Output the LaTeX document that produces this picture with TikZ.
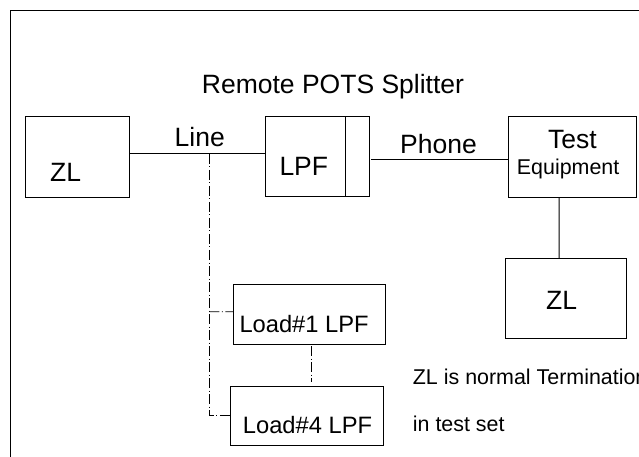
\documentclass[tikz,border=0pt]{standalone}
\usepackage{fontspec}
\setmainfont{Liberation Sans}
\begin{document}
\begin{tikzpicture}[x=1bp,y=-1bp,
  box/.style={draw=black,line width=1bp,rectangle,inner sep=0pt,outer sep=0pt},
  wire/.style={draw=black,line width=1bp},
  dd/.style={draw=black,line width=0.9bp,dash pattern=on 10bp off 2.5bp on 1bp off 2.5bp},
  big/.style={inner sep=0pt,font=\fontsize{26.6}{29}\selectfont},
  mid/.style={inner sep=0pt,font=\fontsize{23.8}{26}\selectfont},
  small/.style={inner sep=0pt,font=\fontsize{21.5}{24}\selectfont}]
\useasboundingbox (0,0) rectangle (639,457);
\clip (0,0) rectangle (639,457);
\fill[white] (0,0) rectangle (639,457);
% frame
\draw[line width=1bp,draw=black] (10,470) -- (10,10.7) -- (650,10.7);
% boxes
\node[box,minimum width=104.3bp,minimum height=80.6bp] (zl1) at (77.2,157) {};
\node[box,minimum width=104.3bp,minimum height=80bp] (lpf) at (317.2,157) {};
\node[box,minimum width=128.4bp,minimum height=80.6bp] (te) at (572.5,157) {};
\node[box,minimum width=121bp,minimum height=80bp] (zl2) at (565.5,298.3) {};
\node[box,minimum width=152.4bp,minimum height=59bp] (load1) at (309.5,314.5) {};
\node[box,minimum width=152.6bp,minimum height=59bp] (load4) at (307,415.5) {};
% LPF divider
\draw[wire] ([xshift=-23.6bp]lpf.north east) -- ([xshift=-23.6bp]lpf.south east);
% texts
\node[big,anchor=base west] (title) at (201.7,93.3) {Remote POTS Splitter};
\node[big,anchor=base west] (tzl1) at (50,182) {ZL};
\node[big,anchor=base east] (tline) at (225,147) {Line};
\node[big,anchor=base west] (tlpf) at (279.3,176) {LPF};
\node[big,anchor=base west] (tphone) at (400,153.3) {Phone};
\node[big,anchor=base west] (ttest) at (548,148.3) {Test};
\node[small,anchor=base west] (tequip) at (516.7,175) {Equipment};
\node[big,anchor=base west] (tzl2) at (546,309.3) {ZL};
\node[mid,anchor=base west] (tload1) at (239.3,332.7) {Load\#1 LPF};
\node[mid,anchor=base west] (tload4) at (242.7,433.3) {Load\#4 LPF};
\node[small,anchor=base west] (tnote1) at (412.7,384) {ZL is normal Termination};
\node[small,anchor=base west] (tnote2) at (412.7,431.7) {in test set};
% wires
\draw[wire] ([yshift=3bp]zl1.east) -- ([yshift=3bp]lpf.west);
\draw[wire,shorten <=2bp] ([yshift=-2.3bp]lpf.east) -- ([yshift=-2.3bp]te.west);
\draw[wire] ([xshift=-13.5bp]te.south) -- ([xshift=-6.5bp]zl2.north);
% dash-dot branches
\coordinate (tap) at (209.3,154);
\coordinate (tap1) at (209.3,311.7);
\draw[dd] (tap) |- (load4.west);
\draw[dd] (tap1) -- ([yshift=2.8bp]load1.west);
\draw[dd,shorten <=2bp,shorten >=4bp] ([xshift=1.5bp]load1.south) -- ([xshift=1.5bp]load1.south |- load4.north);
\end{tikzpicture}
\end{document}
